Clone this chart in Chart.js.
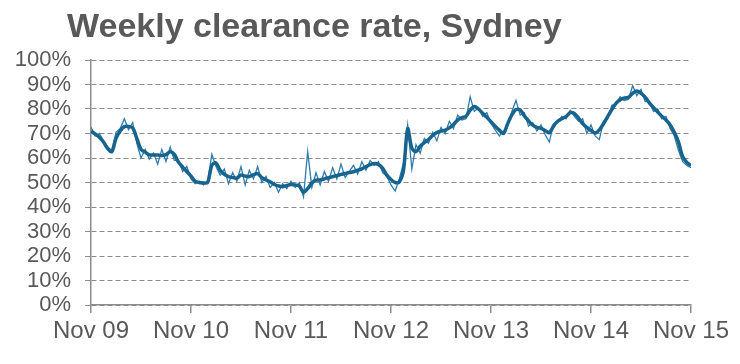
<!DOCTYPE html>
<html>
<head>
<meta charset="utf-8">
<script src="https://cdn.jsdelivr.net/npm/chart.js@4"></script>
<style>
  body { margin: 0; background: #fff; }
  #wrap { position: relative; width: 740px; height: 364px; }
  #title {
    position: absolute; left: 67px; top: 6px;
    font: bold 34px "Liberation Sans", Arial, sans-serif;
    color: #595959; white-space: nowrap;
  }
</style>
</head>
<body>
<div id="wrap">
  <div id="title">Weekly clearance rate, Sydney</div>
  <canvas id="chart" width="740" height="364"></canvas>
</div>
<script>
// tick labels on the time axis, one per year (12 months apart)
const yearLabels = ["Nov 09", "Nov 10", "Nov 11", "Nov 12", "Nov 13", "Nov 14", "Nov 15"];

// values every half month from Nov 09 to Nov 15
const monthStep = 0.5;

// weekly clearance rate (thin line), %
const weeklyRate = [
  72.5, 69.0, 70.0, 67.0, 64.5, 63.0, 70.5, 72.0, 76.0, 71.5, 74.5, 66.0,
  60.0, 63.5, 59.5, 62.0, 57.5, 63.5, 58.5, 64.5, 59.0, 59.0, 54.5, 56.5,
  51.5, 49.5, 50.5, 49.0, 50.5, 61.5, 56.5, 53.0, 55.5, 49.5, 54.0, 50.5,
  56.5, 49.0, 55.0, 51.5, 56.5, 50.0, 52.5, 48.0, 50.0, 46.0, 49.5, 47.5,
  50.5, 48.0, 50.0, 44.2, 62.6, 48.0, 54.0, 49.0, 54.5, 50.5, 56.0, 51.5,
  57.5, 52.0, 54.5, 57.0, 53.5, 58.5, 55.0, 59.0, 57.0, 58.5, 54.0, 52.5,
  49.0, 46.5, 51.5, 58.0, 73.5, 55.5, 65.5, 62.0, 68.0, 66.0, 70.5, 67.0,
  72.5, 70.0, 75.0, 72.0, 77.5, 75.5, 76.0, 85.0, 79.0, 80.5, 77.0, 78.5,
  74.0, 71.5, 69.0, 71.0, 73.0, 79.0, 83.5, 77.5, 78.5, 73.0, 74.5, 71.0,
  73.5, 69.5, 66.5, 74.0, 74.5, 77.0, 76.0, 79.5, 77.0, 75.0, 76.0, 70.0,
  73.5, 69.0, 67.5, 75.0, 76.0, 81.5, 82.0, 85.0, 83.5, 84.0, 89.5, 85.5,
  88.0, 83.0, 83.0, 79.0, 80.0, 76.0, 77.0, 72.0, 69.0, 63.0, 58.5, 57.0,
  56.0
];

// smoothed clearance rate (thick line), %
const smoothedRate = [
  71.0, 69.8, 68.5, 66.5, 63.8, 62.6, 68.0, 71.0, 72.8, 72.9, 72.3, 68.0,
  63.5, 62.4, 61.3, 61.2, 61.2, 61.0, 61.4, 62.6, 61.5, 58.3, 56.3, 54.5,
  52.6, 50.5, 50.0, 49.8, 50.0, 57.0, 58.0, 55.0, 53.3, 52.4, 52.0, 51.8,
  53.0, 52.6, 52.4, 53.2, 53.6, 52.0, 51.0, 50.3, 49.2, 48.6, 48.3, 48.8,
  49.2, 49.0, 48.5, 46.0, 47.5, 49.8, 51.0, 51.0, 51.5, 52.0, 52.4, 52.8,
  53.3, 53.7, 54.1, 54.4, 55.0, 55.6, 56.5, 57.3, 57.8, 57.3, 55.8, 53.0,
  51.2, 50.0, 50.2, 55.0, 72.0, 64.0, 62.6, 64.8, 66.3, 67.5, 69.2, 70.4,
  71.0, 71.4, 72.3, 73.7, 75.5, 76.5, 77.0, 79.5, 81.0, 80.0, 78.3, 76.6,
  74.8, 73.0, 71.4, 70.0, 74.0, 77.6, 79.8, 79.6, 77.2, 75.2, 73.4, 72.5,
  72.1, 71.2, 70.3, 73.0, 75.0, 76.0, 76.9, 78.5, 78.2, 76.3, 74.0, 72.5,
  71.2, 70.2, 71.5, 74.0, 76.9, 79.8, 82.3, 83.8, 84.5, 84.8, 86.4, 87.3,
  86.4, 84.8, 82.5, 80.6, 78.8, 77.0, 75.5, 73.5, 70.5, 66.5, 60.5, 58.2,
  56.9
];

const toPoints = arr => arr.map((v, i) => ({ x: i * monthStep, y: v }));

const gray = "#8c8c8c";
const textGray = "#595959";
const fontFamily = "'Liberation Sans', Arial, sans-serif";

new Chart(document.getElementById("chart").getContext("2d"), {
  type: "line",
  data: {
    datasets: [
      {
        label: "Smoothed",
        data: toPoints(smoothedRate),
        borderColor: "#17648f",
        borderWidth: 3.5,
        pointRadius: 0,
        tension: 0.3,
        fill: false,
      },
      {
        label: "Weekly",
        data: toPoints(weeklyRate),
        borderColor: "#2f7cab",
        borderWidth: 1.3,
        pointRadius: 0,
        tension: 0,
        fill: false,
      },
    ],
  },
  options: {
    responsive: false,
    animation: false,
    layout: { padding: { top: 60, right: 49, left: 0, bottom: 0 } },
    plugins: {
      legend: { display: false },
      tooltip: { enabled: false },
    },
    scales: {
      x: {
        type: "linear",
        min: 0,
        max: 72,
        afterFit: s => { s.height = 59; },
        afterBuildTicks: s => {
          s.ticks = yearLabels.map((_, i) => ({ value: i * 12 }));
        },
        ticks: {
          callback: v => yearLabels[Math.round(v / 12)],
          color: textGray,
          font: { family: fontFamily, size: 24 },
          padding: 4,
          maxRotation: 0,
          autoSkip: false,
        },
        grid: {
          drawOnChartArea: false,
          color: gray,
          tickLength: 8,
          lineWidth: 1.5,
        },
        border: { color: gray, width: 1.5 },
      },
      y: {
        min: 0,
        max: 100,
        afterFit: s => { s.width = 91; },
        ticks: {
          stepSize: 10,
          autoSkip: false,
          callback: v => v + "%",
          color: textGray,
          font: { family: fontFamily, size: 22 },
          padding: 14,
        },
        grid: {
          color: gray,
          lineWidth: 1,
          tickBorderDash: [],
          tickLength: 6,
        },
        border: { color: gray, width: 1.5, dash: [5, 3] },
      },
    },
  },
});
</script>
</body>
</html>
